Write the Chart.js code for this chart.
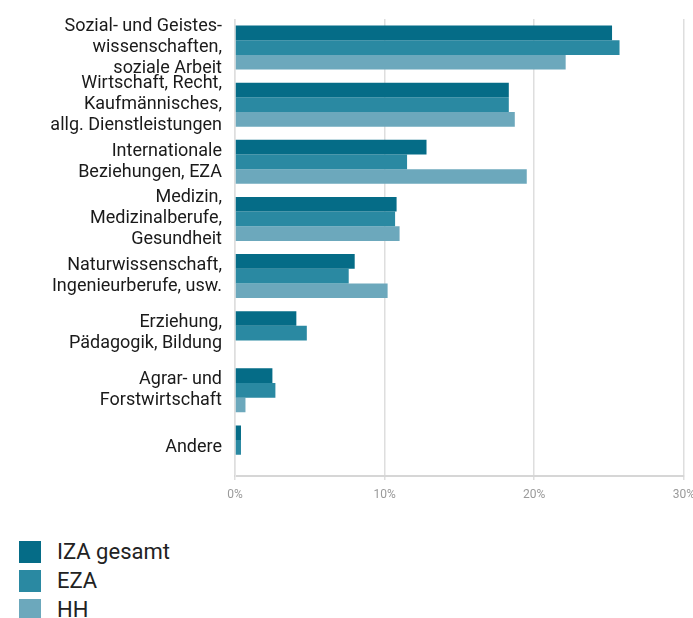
<!DOCTYPE html>
<html>
<head>
<meta charset="utf-8">
<script src="https://cdn.jsdelivr.net/npm/chart.js@4.4.1/dist/chart.umd.min.js"></script>
<style>
  html, body { margin: 0; padding: 0; background: #fff; overflow: hidden; }
  #wrap { position: absolute; left: 0; top: 0; width: 703px; height: 510px; }
  #legend { position: absolute; left: 19px; top: 537px; font-family: Roboto, "Noto Sans", sans-serif; font-size: 22px; color: #222; }
  .item { display: flex; align-items: center; height: 29px; }
  .box { width: 22px; height: 22px; margin-right: 16px; }
</style>
</head>
<body>
<div id="wrap"><canvas id="chart"></canvas></div>
<div id="legend"></div>
<script>
// categories (multi-line labels)
const categories = [
    ['Sozial- und Geistes-', 'wissenschaften,', 'soziale Arbeit'],
    ['Wirtschaft, Recht,', 'Kaufmännisches,', 'allg. Dienstleistungen'],
    ['Internationale', 'Beziehungen, EZA'],
    ['Medizin,', 'Medizinalberufe,', 'Gesundheit'],
    ['Naturwissenschaft,', 'Ingenieurberufe, usw.'],
    ['Erziehung,', 'Pädagogik, Bildung'],
    ['Agrar- und', 'Forstwirtschaft'],
    ['Andere']
];

const seriesNames = ['IZA gesamt', 'EZA', 'HH'];
const izaGesamt = [25.2, 18.3, 12.8, 10.8, 8.0, 4.1, 2.5, 0.4];
const eza       = [25.7, 18.3, 11.5, 10.7, 7.6, 4.8, 2.7, 0.4];
const hh        = [22.1, 18.7, 19.5, 11.0, 10.2, 0.0, 0.7, 0.0];
const colors = ['#056c87', '#2a89a2', '#6ca8bc'];

const xTicks = [0, 10, 20, 30];

const labelFont = 'Roboto, sans-serif';

const ctx = document.getElementById('chart').getContext('2d');
const chart = new Chart(ctx, {
    type: 'bar',
    data: {
        labels: categories,
        datasets: [izaGesamt, eza, hh].map((d, i) => ({
            label: seriesNames[i],
            data: d,
            backgroundColor: colors[i],
            borderWidth: 0,
            barPercentage: 1,
            categoryPercentage: 0.77
        }))
    },
    options: {
        indexAxis: 'y',
        responsive: true,
        maintainAspectRatio: false,
        animation: false,
        layout: { padding: { top: 19, right: 18, left: 0, bottom: 0 } },
        scales: {
            x: {
                min: 0,
                max: 30,
                afterBuildTicks: s => { s.ticks = xTicks.map(v => ({ value: v })); },
                afterFit: s => { s.height = 34; },
                grid: { color: '#dedede', lineWidth: 1.5, tickLength: 4, drawTicks: true },
                border: { color: '#d6d6d6', width: 2 },
                ticks: {
                    color: '#9a9a9a',
                    padding: 8,
                    font: { family: labelFont, size: 12 },
                    callback: v => v + '%'
                }
            },
            y: {
                afterFit: s => { s.width = 235; s.paddingTop = 0; s.paddingBottom = 0; },
                grid: { display: false, drawTicks: false },
                border: { color: '#e6e6e6', width: 1 },
                ticks: {
                    autoSkip: false,
                    color: '#1a1a1a',
                    padding: 13,
                    font: { family: labelFont, size: 18, lineHeight: 1.17 }
                }
            }
        },
        plugins: {
            legend: { display: false },
            tooltip: { enabled: false }
        }
    }
});

// html legend, stacked vertically
const legendEl = document.getElementById('legend');
chart.data.datasets.forEach(ds => {
    const row = document.createElement('div');
    row.className = 'item';
    row.innerHTML = `<span class="box" style="background:${ds.backgroundColor}"></span><span>${ds.label}</span>`;
    legendEl.appendChild(row);
});
</script>
</body>
</html>
